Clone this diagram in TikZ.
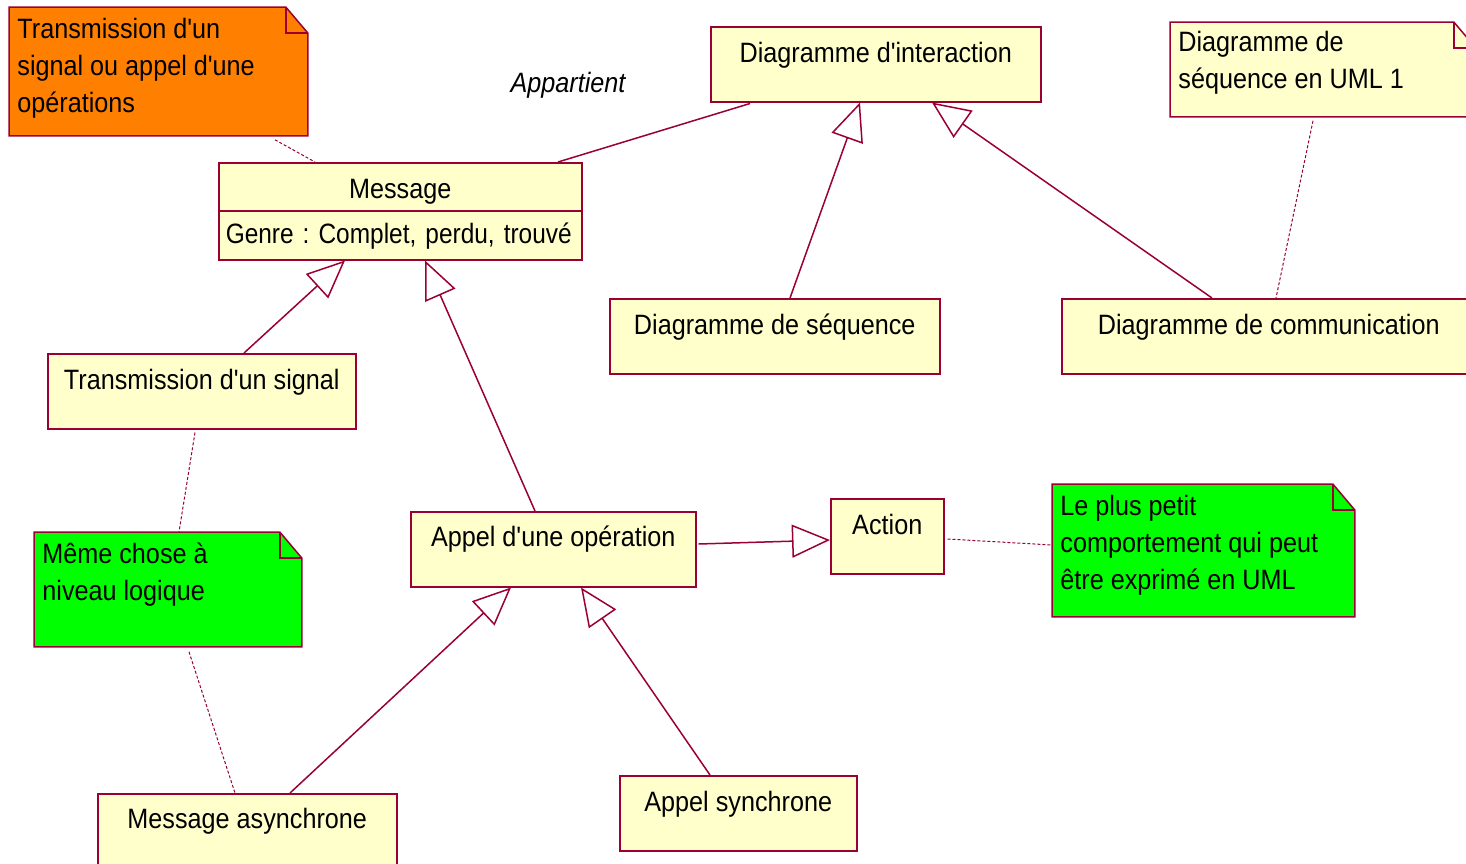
\documentclass[tikz,border=0pt]{standalone}
\usepackage{fontspec}
\usepackage{graphicx}
\setmainfont{Liberation Sans}[FakeStretch=0.9, Ligatures=TeXOff]
\usetikzlibrary{arrows.meta,calc}

\definecolor{umlred}{RGB}{153,0,51}
\definecolor{clsfill}{RGB}{255,255,204}
\definecolor{noteorange}{RGB}{255,128,0}
\definecolor{notegreen}{RGB}{0,255,0}

\newcommand\umlfont{\fontsize{14pt}{18.5pt}\selectfont\frenchspacing}

% note outline with a folded top-right corner, drawn around an empty node
\newcommand\umlnote[2]{%
  \filldraw[umlline, fill=#2] (#1.north west) -- ($(#1.north east)+(-22,0)$)
    -- ($(#1.north east)+(0,26)$) -- (#1.south east) -- (#1.south west) -- cycle;
  \draw[umlline] ($(#1.north east)+(-22,0)$) |- ($(#1.north east)+(0,26)$);}

\tikzset{
  umlline/.style={draw=umlred, line width=0.75pt, line join=miter},
  cls/.style={umlline, fill=clsfill, anchor=north west, inner sep=0pt,
    font=\umlfont, text height=18pt, text depth=19.5pt},
  notebox/.style={anchor=north west, inner sep=0pt},
  notetext/.style={anchor=north west, inner sep=0pt, align=left, font=\umlfont},
  assoc/.style={umlline},
  gen/.style={umlline, -{Triangle[open, length=19pt, width=16.5pt]}},
  anchorline/.style={draw=umlred, line width=0.5pt, dash pattern=on 1.5pt off 1pt},
}

\begin{document}
\begin{tikzpicture}[x=0.5pt, y=-0.5pt]
\useasboundingbox (0,0) rectangle (1466,863);
\clip (0,0) rectangle (1466,863);

% ---- notes ----
\node[notebox, minimum width=149pt, minimum height=64pt] (nOrange) at (9,7) {};
\umlnote{nOrange}{noteorange}
\node[notetext] (tOrange) at ($(nOrange.north west)+(8,5)$)
  {\strut Transmission d'un\\signal ou appel d'une\\opérations};

\node[notebox, minimum width=152.5pt, minimum height=47pt] (nUml) at (1170,22) {};
\umlnote{nUml}{clsfill}
\node[notetext] (tUml) at ($(nUml.north west)+(8,3)$)
  {\strut Diagramme de\\séquence en UML 1};

\node[notebox, minimum width=133.5pt, minimum height=57pt] (nSame) at (34,532) {};
\umlnote{nSame}{notegreen}
\node[notetext] (tSame) at ($(nSame.north west)+(8,5)$)
  {\strut Même chose à\\niveau logique};

\node[notebox, minimum width=151pt, minimum height=66pt] (nAction) at (1052,484) {};
\umlnote{nAction}{notegreen}
\node[notetext] (tAction) at ($(nAction.north west)+(8,5)$)
  {\strut Le plus petit\\comportement qui peut\\être exprimé en UML};

% ---- classes ----
\node[cls, text height=18pt, text depth=6pt, minimum width=181.5pt] (msg) at (218,162) {Message};
\node[cls, text height=16.5pt, text depth=8pt, inner xsep=3.5pt, text width=174.5pt, align=left]
  (msgattr) at (218,210) {\scalebox{0.97}[1]{Genre : Complet, perdu, trouvé}};

\node[cls, minimum width=165pt] (inter) at (710,26) {Diagramme d'interaction};
\node[cls, minimum width=165pt] (seq) at (609,298) {Diagramme de séquence};
\node[cls, minimum width=207pt] (comm) at (1061,298) {Diagramme de communication};
\node[cls, minimum width=154pt] (signal) at (47,353) {Transmission d'un signal};
\node[cls, text height=17.5pt, text depth=20pt, minimum width=142.5pt] (appel) at (410,511) {Appel d'une opération};
\node[cls, minimum width=56.5pt] (action) at (830,498) {Action};
\node[cls, text height=17.5pt, text depth=20pt, minimum width=149.5pt] (async) at (97,793) {Message asynchrone};
\node[cls, minimum width=118.5pt] (sync) at (619,775) {Appel synchrone};

\node[font=\umlfont\itshape, inner sep=0pt] (appart) at (568,85) {Appartient};

% ---- association ----
\draw[assoc] ($(msg.north west)+(340,0)$) -- ($(inter.south west)+(40,1)$);

% ---- generalizations ----
\draw[gen] ($(seq.north west)+(181,0)$) -- ($(inter.south west)+(150,0)$);
\draw[gen] ($(comm.north west)+(151,0)$) -- ($(inter.south west)+(222,0)$);
\draw[gen] ($(signal.north west)+(197,0)$) -- ($(msgattr.south west)+(127,0)$);
\draw[gen] ($(appel.north west)+(125,0)$) -- ($(msgattr.south west)+(207,0)$);
\draw[gen] ($(async.north west)+(193,0)$) -- ($(appel.south west)+(101,0)$);
\draw[gen] ($(sync.north west)+(91,0)$) -- ($(appel.south west)+(171,0)$);
\draw[gen] ($(appel.north east)+(2,33)$) -- ($(action.north west)+(0,42)$);

% ---- note anchors ----
\draw[anchorline] ($(nOrange.south west)+(266,4)$) -- ($(msg.north west)+(97,0)$);
\draw[anchorline] ($(nUml.south west)+(143,4)$) -- ($(comm.north west)+(215,0)$);
\draw[anchorline] ($(signal.south west)+(148,3)$) -- ($(nSame.north west)+(145,0)$);
\draw[anchorline] ($(nSame.south west)+(155,5)$) -- ($(async.north west)+(138,0)$);
\draw[anchorline] ($(action.north east)+(3,41)$) -- ($(nAction.north west)+(0,61)$);
\end{tikzpicture}
\end{document}
